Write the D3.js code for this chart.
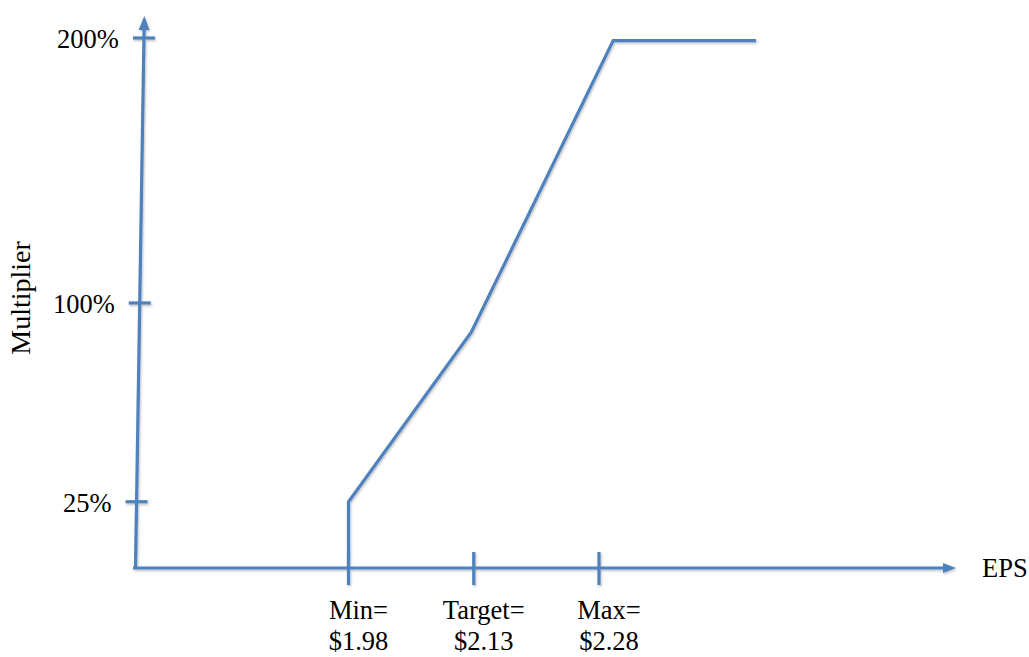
<!DOCTYPE html>
<html>
<head>
<meta charset="utf-8">
<script src="https://cdn.jsdelivr.net/npm/d3@7"></script>
<style>
  html, body { margin: 0; padding: 0; background: #fff; }
  svg { display: block; }
  text { font-family: "Liberation Serif", "Times New Roman", serif; fill: #000; }
</style>
</head>
<body>
<svg id="chart" width="1029" height="657"></svg>
<script>
// EPS thresholds shown on the horizontal axis
const epsTickNames = ["Min=", "Target=", "Max="];
const epsTickValues = [1.98, 2.13, 2.28];
const epsTickLabels = ["$1.98", "$2.13", "$2.28"];

// Payout multiplier ticks (percent)
const multTickValues = [25, 100, 200];
const multTickLabels = ["25%", "100%", "200%"];

// Payout curve: EPS vs multiplier (%)
const curveEps = [1.98, 1.98, 2.127, 2.297, 2.468];
const curveMult = [0, 25, 89, 199, 199];

const blue = "#4f81bd";
const svg = d3.select("#chart");

const x = d3.scaleLinear().domain([1.98, 2.28]).range([348.5, 599]);
const y = d3.scaleLinear().domain([0, 200]).range([568, 38]);

// soft shadow under the drawn strokes
const defs = svg.append("defs");
const f = defs.append("filter").attr("id", "shadow")
  .attr("x", "-5%").attr("y", "-5%").attr("width", "110%").attr("height", "110%");
f.append("feDropShadow").attr("dx", 1).attr("dy", 1.5).attr("stdDeviation", 1)
  .attr("flood-color", "#000").attr("flood-opacity", 0.25);

const g = svg.append("g").attr("filter", "url(#shadow)");

// vertical axis is drawn with a slight lean
const yAxisBottom = { x: 135.5, y: 569 };
const yAxisTop = { x: 144.3, y: 16 };
const axisXAt = py => yAxisBottom.x + (yAxisBottom.y - py) * (yAxisTop.x - yAxisBottom.x) / (yAxisBottom.y - yAxisTop.y);

g.append("line")
  .attr("x1", yAxisBottom.x).attr("y1", yAxisBottom.y)
  .attr("x2", axisXAt(28)).attr("y2", 28)
  .attr("stroke", blue).attr("stroke-width", 3.2);
g.append("path")
  .attr("d", `M${yAxisTop.x},${yAxisTop.y} L${axisXAt(30) - 5.5},${30} L${axisXAt(30) + 5.5},${30} Z`)
  .attr("fill", blue);

// horizontal axis with arrow
const xAxisY = y(0);
g.append("line")
  .attr("x1", 133).attr("y1", xAxisY)
  .attr("x2", 945).attr("y2", xAxisY)
  .attr("stroke", blue).attr("stroke-width", 3.2);
g.append("path")
  .attr("d", `M956,${xAxisY} L943,${xAxisY - 5} L943,${xAxisY + 5} Z`)
  .attr("fill", blue);

// multiplier ticks
multTickValues.forEach((v, i) => {
  const py = y(v);
  const cx = axisXAt(py);
  g.append("line")
    .attr("x1", cx - 11).attr("x2", cx + 11)
    .attr("y1", py).attr("y2", py)
    .attr("stroke", blue).attr("stroke-width", 3.2);
  svg.append("text")
    .attr("x", cx - 25).attr("y", py + 10)
    .attr("text-anchor", "end")
    .attr("font-size", 26.5)
    .text(multTickLabels[i]);
});

// EPS ticks and two-line labels
epsTickValues.forEach((v, i) => {
  const px = x(v);
  g.append("line")
    .attr("x1", px).attr("x2", px)
    .attr("y1", xAxisY - 16).attr("y2", xAxisY + 17)
    .attr("stroke", blue).attr("stroke-width", 3.2);
  const t = svg.append("text")
    .attr("text-anchor", "middle")
    .attr("font-size", 26.5);
  t.append("tspan").attr("x", px + 10).attr("y", 619).text(epsTickNames[i]);
  t.append("tspan").attr("x", px + 10).attr("y", 650).text(epsTickLabels[i]);
});

// payout curve
const pts = curveEps.map((e, i) => [x(e), y(curveMult[i])]);
g.append("path")
  .attr("d", d3.line()(pts))
  .attr("fill", "none")
  .attr("stroke", blue)
  .attr("stroke-width", 3.2)
  .attr("stroke-linejoin", "miter");

// axis titles
svg.append("text")
  .attr("x", 982).attr("y", 577)
  .attr("font-size", 26.5)
  .text("EPS");

svg.append("text")
  .attr("transform", "translate(30,298) rotate(-90)")
  .attr("text-anchor", "middle")
  .attr("font-size", 28)
  .text("Multiplier");
</script>
</body>
</html>
